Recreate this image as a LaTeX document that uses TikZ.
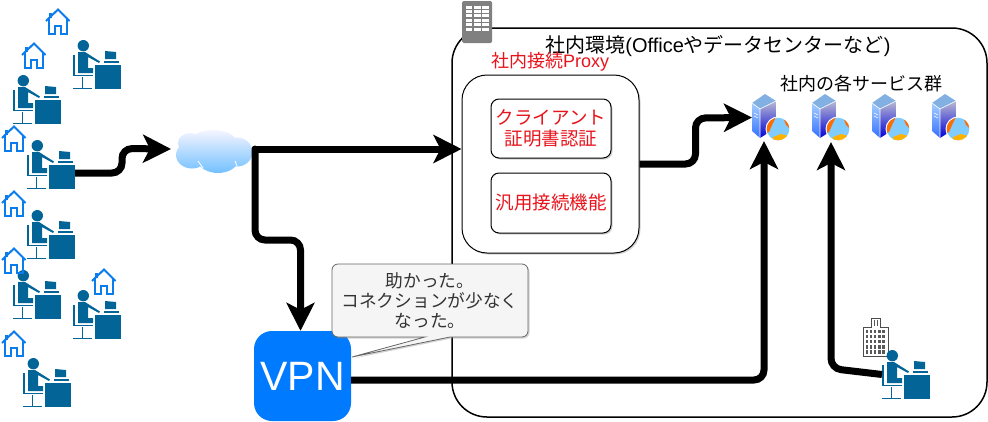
\documentclass[tikz,border=0pt]{standalone}
\usepackage{fontspec}
\setmainfont{Liberation Sans}
\newfontfamily\jp{Noto Sans CJK JP}
\usepackage{tikz}
\usetikzlibrary{positioning,arrows.meta,shadows}
\definecolor{deskblue}{HTML}{036497}
\definecolor{homeblue}{HTML}{0A7CEB}
\definecolor{vpnblue}{HTML}{007BFF}
\definecolor{proxyred}{HTML}{E8141C}
\tikzset{
  flow/.style={line width=7pt,rounded corners=10pt,-{Stealth[length=28pt,width=28pt,inset=7pt]}},
  softshadow/.style={drop shadow={opacity=.35,shadow xshift=1.5pt,shadow yshift=-1.5pt}},
  proxybox/.style={draw,fill=white,line width=1pt,softshadow},
  iconbox/.style={inner sep=0pt,outer sep=0pt},
  worker/.pic={
    \node[iconbox,minimum width=48pt,minimum height=49pt] (-box) at (24,24.5) {};
    \fill[deskblue] (10.3,5.7) circle (5.7);
    \fill[deskblue] (22,25) rectangle (48,49);
    \fill[deskblue] (32,11) -- (43,12) -- (43,19) -- (32,19) -- cycle;
    \fill[deskblue] (31,21) rectangle (46,22.5);
    \fill[deskblue] (5,12) -- (12,12) -- (27,21.5) -- (26,23) -- (15,17) -- (15,28) -- (20,28) -- (20,33) -- (5,33) -- cycle;
    \draw[deskblue,line width=1.3pt] (1,15) -- (1,35.5) -- (20,35.5);
    \draw[deskblue,line width=1.3pt] (9.5,37) -- (9.5,48.5);
    \draw[deskblue,line width=1.3pt] (0,48.5) -- (19,48.5);
  },
  home/.pic={
    \draw[homeblue,line width=2pt] (0,13) -- (12,1.5) -- (23.5,13);
    \draw[homeblue,line width=2pt] (2.5,11) -- (2.5,26) -- (8.5,26) -- (8.5,18) -- (15,18) -- (15,26) -- (21,26) -- (21,11);
    \fill[homeblue] (3,4.5) rectangle (6,10);
  },
  server/.pic={
    \node[iconbox,minimum width=38pt,minimum height=47pt] (-box) at (19,23.5) {};
    \shade[top color=cyan!45!blue!35,bottom color=blue!70!cyan!80] (0,9) -- (8,15) -- (8,44) -- (0,37) -- cycle;
    \shade[top color=blue!20!gray!45,bottom color=blue!85!black] (8,15) -- (24,7) -- (24,34) -- (8,44) -- cycle;
    \fill[cyan!60!blue!50] (0,9) -- (13,0) -- (24,7) -- (8,15) -- cycle;
    \draw[white,line width=.6pt] (0,9) -- (8,15) -- (24,7) (8,15) -- (8,44);
    \draw[white,line width=.6pt] (2,19) -- (6,21) (2,22) -- (6,24);
    \fill[white] (26,35) circle (12.5);
    \begin{scope}
      \clip (26,35) circle (11.3);
      \fill[blue!40!cyan!50] (14,23) rectangle (38,47);
      \fill[orange!85!red] (14,23) -- (24,23) -- (21,29) -- (17,38) -- (14,40) -- cycle;
      \fill[orange!85!red] (31,23) -- (38,23) -- (38,35) -- (34,31) -- cycle;
      \fill[orange!60!yellow] (21,43) -- (29,40) -- (37,42) -- (30,47) -- (21,47) -- cycle;
    \end{scope}
  },
}
\newcommand{\mixedsize}[1]{\fontsize{#1}{#1}\selectfont}
\begin{document}
\begin{tikzpicture}[x=1pt,y=-1pt]
\useasboundingbox (0,0) rectangle (988,421);

% office area
\node[draw,line width=1.5pt,rounded corners=35pt,minimum width=535pt,minimum height=389pt] (office) at (719.5,222.5) {};
\fill[gray,rounded corners=1.5pt] (462,1) rectangle (492,43);
\foreach \r in {0,...,5}
  \foreach \c in {0,1,2}
    \fill[white] (465.5+\c*8.2,5.5+\r*4.4) rectangle +(6.8,3);
\node[font=\mixedsize{20}] (officetitle) at (718,46) {{\jp 社内環境}(Office{\jp やデータセンターなど})};
\node[text=proxyred,font=\mixedsize{18}] (proxytitle) at (550,62) {{\jp 社内接続}Proxy};
\node[font=\mixedsize{18}\jp] (servicetitle) at (861,84) {社内の各サービス群};

% proxy
\node[proxybox,rounded corners=25pt,minimum width=177pt,minimum height=178pt] (proxy) at (550.5,164) {};
\node[proxybox,rounded corners=8pt,minimum width=120pt,minimum height=59pt,text=proxyred,align=center,font=\mixedsize{18.5}\jp] (certauth) at (551,128.5) {クライアント\\[3pt]証明書認証};
\node[proxybox,rounded corners=8pt,minimum width=120pt,minimum height=60pt,text=proxyred,font=\mixedsize{18.5}\jp] (generic) at (551,203) {汎用接続機能};

% services
\foreach \n/\x in {1/752,2/812,3/872,4/932}
  \pic (server\n) at (\x,94) {server};

% office user
\draw[black!70,fill=white,line width=.8pt] (863,327) -- (871,327) -- (871,318) -- (880,318) -- (880,327) -- (888,327) -- (888,356) -- (863,356) -- cycle;
\foreach \r in {0,...,4}
  \foreach \c in {0,...,4}
    \fill[black!65] (865.5+\c*4.2,329.5+\r*5.2) rectangle +(2.4,3.4);
\draw[black!65,line width=.8pt] (874,320) -- (874,326) (877,320) -- (877,326);

% users at home
\foreach \n/\x/\y in {1/73/40,2/13/75,3/27/140,4/27/210,5/13/270,6/73/290,7/23/358,8/882/350}
  \pic (user\n) at (\x,\y) {worker};
\foreach \x/\y in {46/8,22/42,2/125,2/190,2/247,92/268,2/330}
  \pic at (\x,\y) {home};

% cloud
\node[iconbox,minimum width=84pt,minimum height=38pt] (cloud) at (213,149) {};
\shade[top color=blue!4,bottom color=blue!45!cyan!55] (192,155) ellipse (16 and 13.5) (190,143) ellipse (12 and 10) (213,143) ellipse (24 and 13) (237,152) ellipse (15.5 and 14.5) (218,160) ellipse (20 and 13);
\draw[white,line width=.8pt] (198,161) -- (203,168) (235,161) -- (237,166);

% vpn
\node[fill=vpnblue,rounded corners=18pt,minimum width=97pt,minimum height=90pt,text=white,font=\mixedsize{41}] (vpn) at (302.5,376) {VPN};

% connections
\draw[flow] ([yshift=-8.5pt]user3-box.east) -- ++(47,0) -- ++(0,-24.5) -- (cloud.west);
\draw[flow] (cloud.east) -- (cloud.east -| proxy.west);
\draw[flow,line cap=round] (cloud.east) -- ++(0,91) -| ([xshift=-2pt]vpn.north);
\draw[flow] (proxy.east) -- ++(56,0) -- ++(0,-46) -- (server1-box.west);
\draw[flow] ([yshift=-4pt]vpn.east) -| ([xshift=-7pt]server1-box.south);
\draw[flow] (user8-box.west) -- ++(-51,-6) -- ([yshift=-1pt]server2-box.south);

% note
\draw[draw=black!60,fill=black!4,line width=.8pt,softshadow] (430,264) [rounded corners=6pt] -- (528,264) -- (528,337) [sharp corners] -- (450,337) -- (352,357) -- (425,337) [rounded corners=6pt] -- (332,337) -- (332,264) -- cycle;
\node[text=black!80,align=center,font=\fontsize{17.7}{20.3}\selectfont\jp] (note) at (430,300.5) {助かった。\\コネクションが少なく\\なった。};
\end{tikzpicture}
\end{document}
